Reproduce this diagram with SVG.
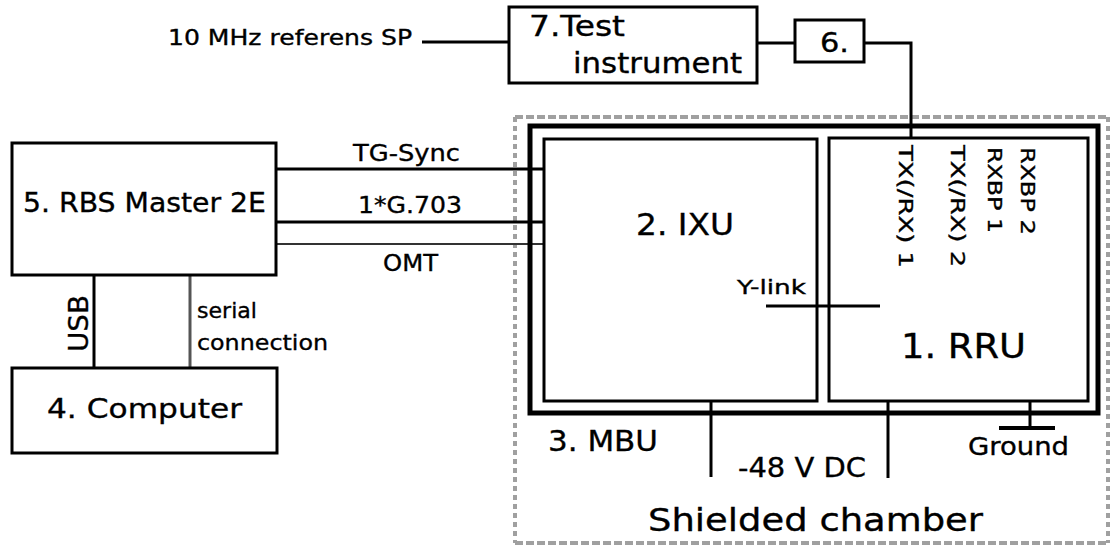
<svg xmlns="http://www.w3.org/2000/svg" width="1111" height="548" viewBox="0 0 1111 548">
<style>
text{font-family:"DejaVu Sans","Liberation Sans",sans-serif;fill:#000;stroke:#000;stroke-width:0.35}
.box{fill:#fff;stroke:#000;stroke-width:3}
.ln{stroke:#000;stroke-width:3;fill:none}
.dotH{stroke:#a0a0a0;stroke-width:4;stroke-dasharray:8 3;fill:none}
.dotV{stroke:#a0a0a0;stroke-width:4;stroke-dasharray:5 4;fill:none}
</style>
<rect width="1111" height="548" fill="#fff"/>
<g id="chamber">
<line class="dotH" x1="515" y1="117" x2="1108" y2="117"/>
<line class="dotH" x1="515" y1="543" x2="1108" y2="543"/>
<line class="dotV" x1="515" y1="117" x2="515" y2="543"/>
<line class="dotV" x1="1108" y1="117" x2="1108" y2="543"/>
<text x="648" y="531" font-size="32" textLength="335" lengthAdjust="spacingAndGlyphs">Shielded chamber</text>
</g>
<g id="connectors">
<line class="ln" x1="422" y1="42" x2="509" y2="42"/>
<line class="ln" x1="757" y1="43" x2="795" y2="43"/>
<polyline class="ln" points="864,43 911,43 911,139"/>
<line class="ln" x1="276" y1="169" x2="544" y2="169"/>
<line class="ln" x1="276" y1="222" x2="544" y2="222"/>
<line x1="276" y1="244" x2="544" y2="244" stroke="#333" stroke-width="2"/>
<line class="ln" x1="94" y1="275" x2="94" y2="368"/>
<line x1="190" y1="275" x2="190" y2="368" stroke="#555" stroke-width="3"/>
<line class="ln" x1="711" y1="401" x2="711" y2="477"/>
<line class="ln" x1="888" y1="401" x2="888" y2="478"/>
<line class="ln" x1="1030" y1="401" x2="1030" y2="428"/>
<line x1="999" y1="428" x2="1055" y2="428" stroke="#000" stroke-width="4"/>
<line class="ln" x1="766" y1="306" x2="880" y2="306"/>
<text x="168" y="45" font-size="21" textLength="244" lengthAdjust="spacingAndGlyphs">10 MHz referens SP</text>
<text x="353" y="161" font-size="23" textLength="107" lengthAdjust="spacingAndGlyphs">TG-Sync</text>
<text x="358" y="213" font-size="23" textLength="104" lengthAdjust="spacingAndGlyphs">1*G.703</text>
<text x="383" y="271" font-size="23" textLength="55" lengthAdjust="spacingAndGlyphs">OMT</text>
<text transform="translate(88,352) rotate(-90)" font-size="27" textLength="57" lengthAdjust="spacingAndGlyphs">USB</text>
<text x="197" y="318" font-size="22" textLength="60" lengthAdjust="spacingAndGlyphs">serial</text>
<text x="197" y="350" font-size="22" textLength="131" lengthAdjust="spacingAndGlyphs">connection</text>
<text x="738" y="477" font-size="27" textLength="128" lengthAdjust="spacingAndGlyphs">-48 V DC</text>
<text x="968" y="455" font-size="25" textLength="101" lengthAdjust="spacingAndGlyphs">Ground</text>
<text x="737" y="294" font-size="20" textLength="69" lengthAdjust="spacingAndGlyphs">Y-link</text>
</g>
<g id="mbu">
<rect x="530" y="126" width="568" height="287" fill="none" stroke="#000" stroke-width="5"/>
<text x="548" y="451" font-size="29" textLength="110" lengthAdjust="spacingAndGlyphs">3. MBU</text>
</g>
<g id="ixu">
<rect x="544" y="139" width="273" height="262" fill="none" stroke="#000" stroke-width="3"/>
<text x="636" y="235" font-size="30" textLength="98" lengthAdjust="spacingAndGlyphs">2. IXU</text>
</g>
<g id="rru">
<rect x="829" y="138" width="259" height="263" fill="none" stroke="#000" stroke-width="3"/>
<text x="901" y="358" font-size="33" textLength="125" lengthAdjust="spacingAndGlyphs">1. RRU</text>
<text transform="translate(899,145) rotate(90)" font-size="19" textLength="123" lengthAdjust="spacingAndGlyphs">TX(/RX) 1</text>
<text transform="translate(951,145) rotate(90)" font-size="19" textLength="122" lengthAdjust="spacingAndGlyphs">TX(/RX) 2</text>
<text transform="translate(988,147) rotate(90)" font-size="19" textLength="86" lengthAdjust="spacingAndGlyphs">RXBP 1</text>
<text transform="translate(1021,147) rotate(90)" font-size="19" textLength="88" lengthAdjust="spacingAndGlyphs">RXBP 2</text>
</g>
<g id="test-instrument">
<rect class="box" x="509" y="7" width="248" height="76"/>
<text x="529" y="36" font-size="28" textLength="96" lengthAdjust="spacingAndGlyphs">7.Test</text>
<text x="573" y="73" font-size="28" textLength="169" lengthAdjust="spacingAndGlyphs">instrument</text>
</g>
<g id="node6">
<rect class="box" x="795" y="20" width="69" height="42"/>
<text x="820" y="52" font-size="27" textLength="29" lengthAdjust="spacingAndGlyphs">6.</text>
</g>
<g id="rbs-master">
<rect class="box" x="12" y="143" width="264" height="132"/>
<text x="23" y="212" font-size="26" textLength="243" lengthAdjust="spacingAndGlyphs">5. RBS Master 2E</text>
</g>
<g id="computer">
<rect class="box" x="12" y="368" width="265" height="85"/>
<text x="47" y="418" font-size="27" textLength="195" lengthAdjust="spacingAndGlyphs">4. Computer</text>
</g>
</svg>
